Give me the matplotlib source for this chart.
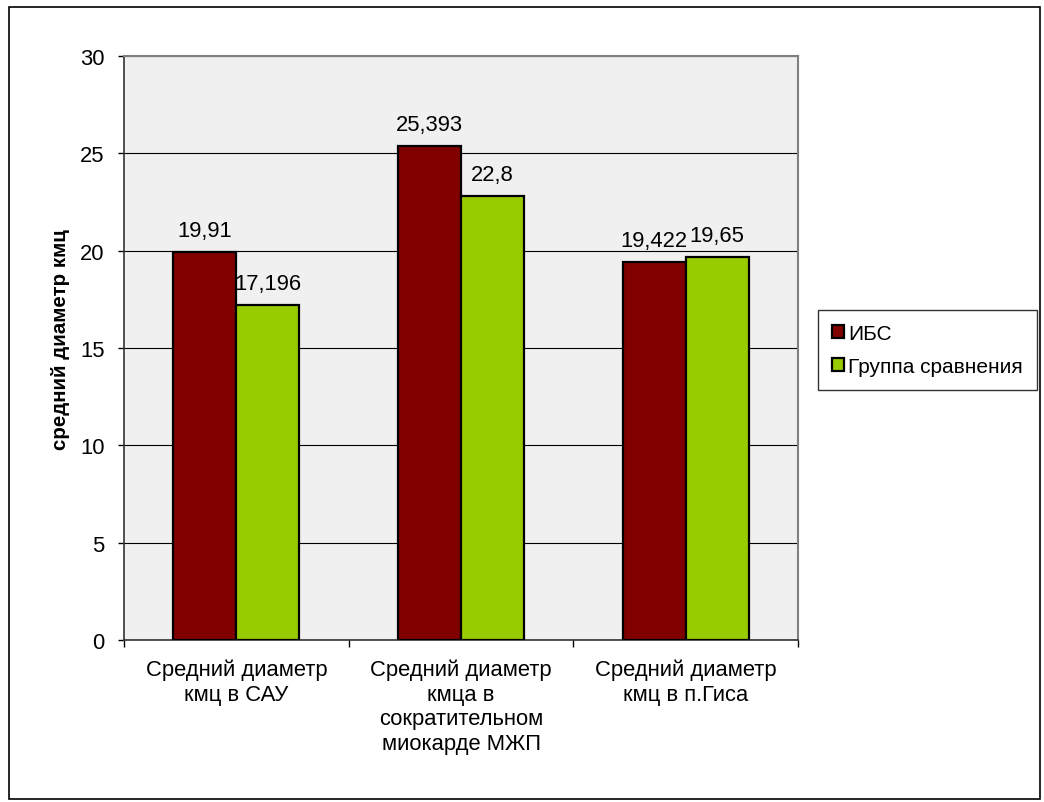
import matplotlib
matplotlib.use("Agg")
import matplotlib.pyplot as plt
from matplotlib.patches import Rectangle
import numpy as np

plt.rcParams['font.family'] = ['Liberation Sans', 'DejaVu Sans']

categories = ["Средний диаметр\nкмц в САУ",
              "Средний диаметр\nкмца в\nсократительном\nмиокарде МЖП",
              "Средний диаметр\nкмц в п.Гиса"]
ibs = [19.91, 25.393, 19.422]
comparison = [17.196, 22.8, 19.65]
ibs_labels = ["19,91", "25,393", "19,422"]
comparison_labels = ["17,196", "22,8", "19,65"]
series_names = ["ИБС", "Группа сравнения"]
yticks = [0, 5, 10, 15, 20, 25, 30]

red = "#800000"
green = "#99CC00"
fs = 15.8

fig = plt.figure(figsize=(10.44, 8.03), dpi=100)
fig.patch.set_facecolor("white")
fig.add_artist(Rectangle((9 / 1044, 1 - 800 / 803), 1031 / 1044, 792 / 803,
                         transform=fig.transFigure, fill=False,
                         edgecolor="black", linewidth=1.2))

ax = fig.add_axes([124 / 1044, 1 - 641 / 803, 674 / 1044, 584 / 803])
ax.set_facecolor("#F0F0F0")

x = np.arange(len(categories))
w = 0.28
b1 = ax.bar(x - w / 2, ibs, w, color=red, edgecolor="black", linewidth=1.6,
            label=series_names[0], zorder=3)
b2 = ax.bar(x + w / 2, comparison, w, color=green, edgecolor="black",
            linewidth=1.6, label=series_names[1], zorder=3)

for rects, labels in ((b1, ibs_labels), (b2, comparison_labels)):
    for r, t in zip(rects, labels):
        ax.annotate(t, (r.get_x() + r.get_width() / 2, r.get_height()),
                    xytext=(0, 8), textcoords="offset points",
                    ha="center", va="bottom", fontsize=fs)

ax.set_xlim(-0.5, len(categories) - 0.5)
ax.set_ylim(0, 30)
ax.set_yticks(yticks)
ax.set_yticklabels([str(v) for v in yticks], fontsize=fs)
ax.yaxis.grid(True, color="black", linewidth=0.8, zorder=0)
ax.set_axisbelow(True)

ax.set_xticks(np.arange(len(categories) + 1) - 0.5)
ax.set_xticklabels([])
ax.tick_params(axis="x", length=5, direction="out", width=1)
ax.tick_params(axis="y", length=4, direction="out", width=1, pad=10)
for i, c in enumerate(categories):
    ax.text(i, -0.032, c, transform=ax.get_xaxis_transform(),
            ha="center", va="top", fontsize=fs, linespacing=1.22)

for s in ("top", "right"):
    ax.spines[s].set_color("#808080")
    ax.spines[s].set_linewidth(1.5)
for s in ("left", "bottom"):
    ax.spines[s].set_color("#333333")
    ax.spines[s].set_linewidth(1.2)

ax.set_ylabel("средний диаметр кмц", fontsize=14.8, fontweight="bold")
ax.yaxis.set_label_coords(-0.08, 0.517)

leg = fig.legend(handles=[b1, b2], labels=series_names,
                 loc="upper left", bbox_to_anchor=(818 / 1044, 1 - 311 / 803),
                 fontsize=15, frameon=True, fancybox=False,
                 edgecolor="black", handlelength=0.6, handleheight=0.6,
                 handletextpad=0.2, labelspacing=0.7, borderpad=0.65,
                 borderaxespad=0)
leg.get_frame().set_linewidth(1.0)

fig.savefig("out.png", dpi=100)
